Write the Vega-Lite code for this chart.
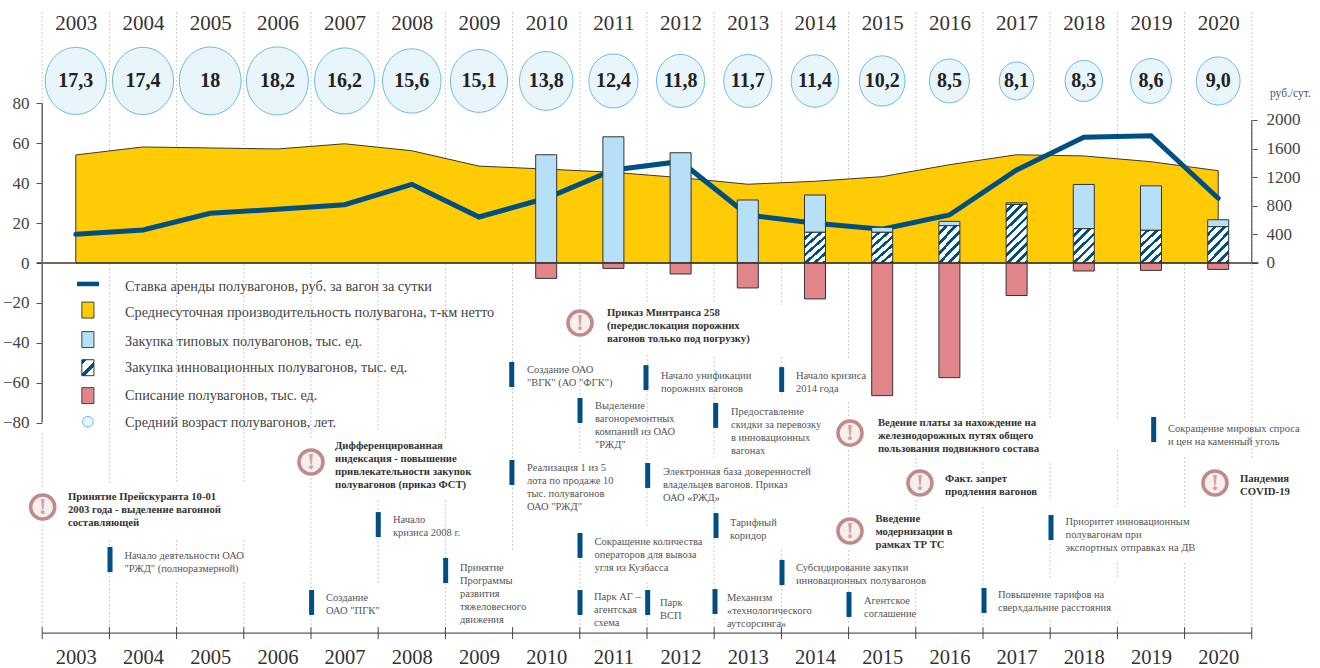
{"$schema":"https://vega.github.io/schema/vega-lite/v6.json","width":1320,"height":668,"autosize":"none","padding":0,"background":"white","config":{"view":{"stroke":null},"font":"Liberation Serif"},"datasets":{"grid":[{"year":2002.5,"y":125.9,"y2":-80.2},{"year":2002.5,"y":-85.3,"y2":-113.8},{"year":2002.5,"y":-131.4,"y2":-182.5},{"year":2003.5,"y":125.9,"y2":-84},{"year":2003.5,"y":-85.3,"y2":-110.3},{"year":2003.5,"y":-138.9,"y2":-142.4},{"year":2003.5,"y":-155,"y2":-182.5},{"year":2004.5,"y":125.9,"y2":-110.3},{"year":2004.5,"y":-138.9,"y2":-148.9},{"year":2004.5,"y":-160,"y2":-182.5},{"year":2005.5,"y":125.9,"y2":-110.3},{"year":2005.5,"y":-138.9,"y2":-148.9},{"year":2005.5,"y":-160,"y2":-182.5},{"year":2006.5,"y":125.9,"y2":-88.8},{"year":2006.5,"y":-107.8,"y2":-164},{"year":2006.5,"y":-176.5,"y2":-182.5},{"year":2007.5,"y":125.9,"y2":-84},{"year":2007.5,"y":-118.9,"y2":-125},{"year":2007.5,"y":-137.4,"y2":-160.5},{"year":2008.5,"y":125.9,"y2":-88.8},{"year":2008.5,"y":-118.9,"y2":-147.9},{"year":2008.5,"y":-160.5,"y2":-182.5},{"year":2009.5,"y":125.9,"y2":-144.9},{"year":2010.5,"y":125.9,"y2":-22.6},{"year":2010.5,"y":-41.1,"y2":-67.7},{"year":2010.5,"y":-80.2,"y2":-95.3},{"year":2010.5,"y":-147.9,"y2":-164},{"year":2010.5,"y":-176.5,"y2":-182.5},{"year":2011.5,"y":125.9,"y2":-20},{"year":2011.5,"y":-46,"y2":-51},{"year":2011.5,"y":-63.7,"y2":-100},{"year":2011.5,"y":-112.8,"y2":-132},{"year":2011.5,"y":-160,"y2":-164},{"year":2011.5,"y":-176.5,"y2":-182.5},{"year":2012.5,"y":125.9,"y2":-21},{"year":2012.5,"y":-47.1,"y2":-70.2},{"year":2012.5,"y":-82.7,"y2":-97.3},{"year":2012.5,"y":-120.4,"y2":-125.4},{"year":2012.5,"y":-137.9,"y2":-163},{"year":2012.5,"y":-176,"y2":-182.5},{"year":2013.5,"y":125.9,"y2":-21},{"year":2013.5,"y":-47.1,"y2":-52.2},{"year":2013.5,"y":-64.7,"y2":-67.2},{"year":2013.5,"y":-143.9,"y2":-148.9},{"year":2013.5,"y":-161.5,"y2":-182.5},{"year":2014.5,"y":125.9,"y2":-48.6},{"year":2014.5,"y":-69.7,"y2":-77.2},{"year":2014.5,"y":-93.8,"y2":-126.4},{"year":2014.5,"y":-143.9,"y2":-165},{"year":2014.5,"y":-177.5,"y2":-182.5},{"year":2015.5,"y":125.9,"y2":-77.2},{"year":2015.5,"y":-93.8,"y2":-102.3},{"year":2015.5,"y":-118.9,"y2":-125},{"year":2015.5,"y":-161.5,"y2":-182.5},{"year":2016.5,"y":125.9,"y2":-78.7},{"year":2016.5,"y":-100.3,"y2":-106.3},{"year":2016.5,"y":-122.4,"y2":-164},{"year":2016.5,"y":-176.5,"y2":-182.5},{"year":2017.5,"y":125.9,"y2":-78.7},{"year":2017.5,"y":-100.3,"y2":-118.9},{"year":2017.5,"y":-138.9,"y2":-159},{"year":2017.5,"y":-179,"y2":-182.5},{"year":2018.5,"y":125.9,"y2":-78.7},{"year":2018.5,"y":-93.8,"y2":-122.4},{"year":2018.5,"y":-150.4,"y2":-157.5},{"year":2018.5,"y":-180,"y2":-182.5},{"year":2019.5,"y":125.9,"y2":-78.7},{"year":2019.5,"y":-97.3,"y2":-122.4},{"year":2019.5,"y":-150.4,"y2":-182.5},{"year":2020.5,"y":125.9,"y2":-98.8},{"year":2020.5,"y":-116.4,"y2":-182.5}],"productivity":[{"year":2003,"y":54.2,"y2":0},{"year":2004,"y":58.2,"y2":0},{"year":2005,"y":57.7,"y2":0},{"year":2006,"y":57.2,"y2":0},{"year":2007,"y":59.8,"y2":0},{"year":2008,"y":56.3,"y2":0},{"year":2009,"y":48.6,"y2":0},{"year":2010,"y":47.1,"y2":0},{"year":2011,"y":45.5,"y2":0},{"year":2012,"y":42.8,"y2":0},{"year":2013,"y":39.5,"y2":0},{"year":2014,"y":41,"y2":0},{"year":2015,"y":43.3,"y2":0},{"year":2016,"y":49.3,"y2":0},{"year":2017,"y":54.3,"y2":0},{"year":2018,"y":53.7,"y2":0},{"year":2019,"y":50.8,"y2":0},{"year":2020,"y":46.3,"y2":0}],"rent":[{"year":2003,"y":401},{"year":2004,"y":461},{"year":2005,"y":695},{"year":2006,"y":751},{"year":2007,"y":815},{"year":2008,"y":1100},{"year":2009,"y":643},{"year":2010,"y":905},{"year":2011,"y":1301},{"year":2012,"y":1420},{"year":2013,"y":671},{"year":2014,"y":555},{"year":2015,"y":471},{"year":2016,"y":671},{"year":2017,"y":1301},{"year":2018,"y":1758},{"year":2019,"y":1780},{"year":2020,"y":905}],"typical":[{"year":2010,"y":54.3,"y2":0},{"year":2011,"y":63.3,"y2":0},{"year":2012,"y":55.3,"y2":0},{"year":2013,"y":31.6,"y2":0},{"year":2014,"y":34.1,"y2":15.4},{"year":2015,"y":17.9,"y2":15.4},{"year":2016,"y":20.9,"y2":18.7},{"year":2017,"y":30.2,"y2":29.4},{"year":2018,"y":39.4,"y2":17.2},{"year":2019,"y":38.7,"y2":16.4},{"year":2020,"y":21.7,"y2":18.2}],"innovative":[{"year":2014,"y":15.4,"y2":0},{"year":2015,"y":15.4,"y2":0},{"year":2016,"y":18.7,"y2":0},{"year":2018,"y":17.2,"y2":0},{"year":2019,"y":16.4,"y2":0},{"year":2020,"y":18.2,"y2":0}],"innovative2017":[{"year":2017,"y":29.4,"y2":0}],"writeoff":[{"year":2010,"y":-7.7,"y2":0},{"year":2011,"y":-2.7,"y2":0},{"year":2012,"y":-5.5,"y2":0},{"year":2013,"y":-12.5,"y2":0},{"year":2014,"y":-18,"y2":0},{"year":2015,"y":-66.5,"y2":0},{"year":2016,"y":-57.5,"y2":0},{"year":2017,"y":-16.3,"y2":0},{"year":2018,"y":-4,"y2":0},{"year":2019,"y":-3.7,"y2":0},{"year":2020,"y":-3.2,"y2":0}],"age":[{"year":2003,"y":91.3,"age":17.3,"label":"17,3"},{"year":2004,"y":91.3,"age":17.4,"label":"17,4"},{"year":2005,"y":91.3,"age":18,"label":"18"},{"year":2006,"y":91.3,"age":18.2,"label":"18,2"},{"year":2007,"y":91.3,"age":16.2,"label":"16,2"},{"year":2008,"y":91.3,"age":15.6,"label":"15,6"},{"year":2009,"y":91.3,"age":15.1,"label":"15,1"},{"year":2010,"y":91.3,"age":13.8,"label":"13,8"},{"year":2011,"y":91.3,"age":12.4,"label":"12,4"},{"year":2012,"y":91.3,"age":11.8,"label":"11,8"},{"year":2013,"y":91.3,"age":11.7,"label":"11,7"},{"year":2014,"y":91.3,"age":11.4,"label":"11,4"},{"year":2015,"y":91.3,"age":10.2,"label":"10,2"},{"year":2016,"y":91.3,"age":8.5,"label":"8,5"},{"year":2017,"y":91.3,"age":8.1,"label":"8,1"},{"year":2018,"y":91.3,"age":8.3,"label":"8,3"},{"year":2019,"y":91.3,"age":8.6,"label":"8,6"},{"year":2020,"y":91.3,"age":9.0,"label":"9,0"}],"ticks":[{"year":2002.5,"y":-182.6,"y2":-188.6},{"year":2003.5,"y":-182.6,"y2":-188.6},{"year":2004.5,"y":-182.6,"y2":-188.6},{"year":2005.5,"y":-182.6,"y2":-188.6},{"year":2006.5,"y":-182.6,"y2":-188.6},{"year":2007.5,"y":-182.6,"y2":-188.6},{"year":2008.5,"y":-182.6,"y2":-188.6},{"year":2009.5,"y":-182.6,"y2":-188.6},{"year":2010.5,"y":-182.6,"y2":-188.6},{"year":2011.5,"y":-182.6,"y2":-188.6},{"year":2012.5,"y":-182.6,"y2":-188.6},{"year":2013.5,"y":-182.6,"y2":-188.6},{"year":2014.5,"y":-182.6,"y2":-188.6},{"year":2015.5,"y":-182.6,"y2":-188.6},{"year":2016.5,"y":-182.6,"y2":-188.6},{"year":2017.5,"y":-182.6,"y2":-188.6},{"year":2018.5,"y":-182.6,"y2":-188.6},{"year":2019.5,"y":-182.6,"y2":-188.6},{"year":2020.5,"y":-182.6,"y2":-188.6}],"bars":[{"year":2003.509,"y":-142.4,"y2":-155},{"year":2006.509,"y":-164,"y2":-176.5},{"year":2007.501,"y":-124.9,"y2":-137.4},{"year":2008.504,"y":-147.9,"y2":-160.5},{"year":2009.487,"y":-49.6,"y2":-62.2},{"year":2009.49,"y":-98.8,"y2":-111.3},{"year":2010.503,"y":-67.7,"y2":-80.2},{"year":2010.503,"y":-135.4,"y2":-147.9},{"year":2010.503,"y":-164,"y2":-176.5},{"year":2011.485,"y":-51.2,"y2":-63.7},{"year":2011.51,"y":-100.3,"y2":-112.8},{"year":2011.51,"y":-164,"y2":-176.5},{"year":2012.522,"y":-70.2,"y2":-82.7},{"year":2012.527,"y":-125.4,"y2":-137.9},{"year":2012.512,"y":-163.5,"y2":-176},{"year":2013.504,"y":-52.2,"y2":-64.7},{"year":2013.509,"y":-148.9,"y2":-161.5},{"year":2014.506,"y":-165,"y2":-177.5},{"year":2016.515,"y":-163,"y2":-175.5},{"year":2017.512,"y":-126.4,"y2":-138.9},{"year":2019.04,"y":-77.2,"y2":-89.8}],"icons":[{"year":2002.507,"y":-122.4},{"year":2006.5,"y":-99.8},{"year":2010.503,"y":-30.1},{"year":2014.521,"y":-85.3},{"year":2014.521,"y":-134.4},{"year":2015.562,"y":-110.3},{"year":2019.952,"y":-110.3}],"notes":[{"year":2003.725,"y":-144.4,"text":"Начало деятельности ОАО\n\"РЖД\" (полноразмерной)"},{"year":2006.723,"y":-165.5,"text":"Создание\nОАО \"ПГК\""},{"year":2007.72,"y":-126.4,"text":"Начало\nкризиса 2008 г."},{"year":2008.717,"y":-150.5,"text":"Принятие\nПрограммы\nразвития\nтяжеловесного\nдвижения"},{"year":2009.714,"y":-51.2,"text":"Создание ОАО\n\"ВГК\" (АО \"ФГК\")"},{"year":2010.726,"y":-69.2,"text":"Выделение\nвагоноремонтных\nкомпаний из ОАО\n\"РЖД\""},{"year":2009.714,"y":-100.3,"text":"Реализация 1 из 5\nлота по продаже  10\nтыс. полувагонов\nОАО \"РЖД\""},{"year":2010.719,"y":-137.4,"text":"Сокращение количества\nоператоров для вывоза\nугля из Кузбасса"},{"year":2010.711,"y":-165,"text":"Парк АГ –\nагентская\nсхема"},{"year":2011.693,"y":-168,"text":"Парк\nВСП"},{"year":2011.708,"y":-54.2,"text":"Начало унификации\nпорожних вагонов"},{"year":2011.738,"y":-102.3,"text":"Электронная база доверенностей\nвладельцев вагонов. Приказ\nОАО «РЖД»"},{"year":2012.75,"y":-72.2,"text":"Предоставление\nскидки за перевозку\nв инновационных\nвагонах"},{"year":2012.735,"y":-127.9,"text":"Тарифный\nкоридор"},{"year":2012.69,"y":-165.5,"text":"Механизм\n«технологического\nаутсорсинга»"},{"year":2013.717,"y":-54.2,"text":"Начало кризиса\n2014 года"},{"year":2013.717,"y":-150.5,"text":"Субсидирование закупки\nинновационных полувагонов"},{"year":2014.729,"y":-167,"text":"Агентское\nсоглашение"},{"year":2016.723,"y":-164,"text":"Повышение тарифов на\nсверхдальние расстояния"},{"year":2017.728,"y":-127.4,"text":"Приоритет инновационным\nполувагонам при\nэкспортных отправках на ДВ"},{"year":2019.253,"y":-80.7,"text":"Сокращение мировых спроса\nи цен на каменный уголь"}],"boldNotes":[{"year":2002.884,"y":-114.8,"text":"Принятие Прейскуранта 10-01\n2003 года - выделение вагонной\nсоставляющей"},{"year":2006.857,"y":-89.3,"text":"Дифференцированная\nиндексация - повышение\nпривлекательности закупок\nполувагонов (приказ ФСТ)"},{"year":2010.905,"y":-22.8,"text":"Приказ Минтранса 258\n(передислокация порожних\nвагонов только под погрузку)"},{"year":2014.937,"y":-77.7,"text":"Ведение платы за нахождение на\nжелезнодорожных путях общего\nпользования подвижного состава"},{"year":2015.935,"y":-105.8,"text":"Факт. запрет\nпродления вагонов"},{"year":2014.9,"y":-125.9,"text":"Введение\nмодернизации в\nрамках ТР ТС"},{"year":2020.324,"y":-105.8,"text":"Пандемия\nCOVID-19"}],"legend":[{"year":2003.732,"y":-12,"text":"Ставка аренды полувагонов,  руб. за вагон за сутки"},{"year":2003.732,"y":-25.1,"text":"Среднесуточная производительность полувагона, т-км нетто"},{"year":2003.732,"y":-39.6,"text":"Закупка типовых полувагонов, тыс. ед."},{"year":2003.732,"y":-52.7,"text":"Закупка инновационных полувагонов, тыс. ед."},{"year":2003.732,"y":-66.7,"text":"Списание полувагонов, тыс. ед."},{"year":2003.732,"y":-80.2,"text":"Средний возраст полувагонов, лет."}]},"layer":[{"data":{"name":"grid"},"mark":{"type":"rule","stroke":"#cccccc","strokeWidth":1,"strokeDash":[2,2]},"encoding":{"x":{"field":"year","type":"quantitative","scale":{"domain":[2001.872,2021.515],"nice":false,"zero":false,"padding":0},"axis":{"orient":"top","offset":-33,"values":[2003,2004,2005,2006,2007,2008,2009,2010,2011,2012,2013,2014,2015,2016,2017,2018,2019,2020],"format":"d","title":null,"domain":false,"ticks":false,"grid":false,"labelPadding":0,"labelFontSize":21,"labelColor":"#333333","labelFont":"Liberation Serif","labelOverlap":false,"labelFlush":false}},"y":{"field":"y","type":"quantitative","scale":{"domain":[-203.1,131.9],"nice":false,"zero":false},"axis":{"orient":"left","offset":-42,"values":[-80,-60,-40,-20,0,20,40,60,80],"title":null,"domain":false,"grid":false,"tickSize":6,"tickColor":"#555555","labelPadding":7,"labelFontSize":17,"labelColor":"#444444","labelFont":"Liberation Serif"}},"y2":{"field":"y2"}}},{"data":{"name":"productivity"},"mark":{"type":"area","fill":"#fecb05","stroke":"#3a3a2a","strokeWidth":1},"encoding":{"y2":{"field":"y2"}}},{"data":{"name":"rent"},"mark":{"type":"line","stroke":"#004f82","strokeWidth":5,"strokeCap":"round"},"encoding":{"y":{"field":"y","type":"quantitative","scale":{"domain":[-5664,3678],"nice":false,"zero":false},"axis":{"orient":"right","offset":-68,"values":[0,400,800,1200,1600,2000],"format":"d","title":null,"domain":false,"grid":false,"tickSize":5,"tickColor":"#555555","labelPadding":9,"labelFontSize":17,"labelColor":"#444444","labelFont":"Liberation Serif"}}}},{"data":{"name":"typical"},"mark":{"type":"bar","size":21,"fill":"#b6e0f7","stroke":"#333333","strokeWidth":1},"encoding":{"y2":{"field":"y2"}}},{"data":{"name":"innovative"},"mark":{"type":"bar","size":21,"stroke":"#333333","strokeWidth":1,"fill":{"gradient":"linear","x1":0,"y1":0,"x2":0.706,"y2":1.176,"stops":[{"offset":0,"color":"#ffffff"},{"offset":0.1,"color":"#ffffff"},{"offset":0.1,"color":"#004f82"},{"offset":0.1667,"color":"#004f82"},{"offset":0.1667,"color":"#ffffff"},{"offset":0.2667,"color":"#ffffff"},{"offset":0.2667,"color":"#004f82"},{"offset":0.3333,"color":"#004f82"},{"offset":0.3333,"color":"#ffffff"},{"offset":0.4333,"color":"#ffffff"},{"offset":0.4333,"color":"#004f82"},{"offset":0.5,"color":"#004f82"},{"offset":0.5,"color":"#ffffff"},{"offset":0.6,"color":"#ffffff"},{"offset":0.6,"color":"#004f82"},{"offset":0.6667,"color":"#004f82"},{"offset":0.6667,"color":"#ffffff"},{"offset":0.7667,"color":"#ffffff"},{"offset":0.7667,"color":"#004f82"},{"offset":0.8333,"color":"#004f82"},{"offset":0.8333,"color":"#ffffff"},{"offset":0.9333,"color":"#ffffff"},{"offset":0.9333,"color":"#004f82"},{"offset":1,"color":"#004f82"}]}},"encoding":{"y2":{"field":"y2"}}},{"data":{"name":"innovative2017"},"mark":{"type":"bar","size":21,"stroke":"#333333","strokeWidth":1,"fill":{"gradient":"linear","x1":0,"y1":0,"x2":0.428,"y2":1.203,"stops":[{"offset":0,"color":"#ffffff"},{"offset":0.0667,"color":"#ffffff"},{"offset":0.0667,"color":"#004f82"},{"offset":0.1111,"color":"#004f82"},{"offset":0.1111,"color":"#ffffff"},{"offset":0.1778,"color":"#ffffff"},{"offset":0.1778,"color":"#004f82"},{"offset":0.2222,"color":"#004f82"},{"offset":0.2222,"color":"#ffffff"},{"offset":0.2889,"color":"#ffffff"},{"offset":0.2889,"color":"#004f82"},{"offset":0.3333,"color":"#004f82"},{"offset":0.3333,"color":"#ffffff"},{"offset":0.4,"color":"#ffffff"},{"offset":0.4,"color":"#004f82"},{"offset":0.4444,"color":"#004f82"},{"offset":0.4444,"color":"#ffffff"},{"offset":0.5111,"color":"#ffffff"},{"offset":0.5111,"color":"#004f82"},{"offset":0.5556,"color":"#004f82"},{"offset":0.5556,"color":"#ffffff"},{"offset":0.6222,"color":"#ffffff"},{"offset":0.6222,"color":"#004f82"},{"offset":0.6667,"color":"#004f82"},{"offset":0.6667,"color":"#ffffff"},{"offset":0.7333,"color":"#ffffff"},{"offset":0.7333,"color":"#004f82"},{"offset":0.7778,"color":"#004f82"},{"offset":0.7778,"color":"#ffffff"},{"offset":0.8444,"color":"#ffffff"},{"offset":0.8444,"color":"#004f82"},{"offset":0.8889,"color":"#004f82"},{"offset":0.8889,"color":"#ffffff"},{"offset":0.9556,"color":"#ffffff"},{"offset":0.9556,"color":"#004f82"},{"offset":1,"color":"#004f82"}]}},"encoding":{"y2":{"field":"y2"}}},{"data":{"name":"writeoff"},"mark":{"type":"bar","size":21,"fill":"#e2858b","stroke":"#333333","strokeWidth":1},"encoding":{"y2":{"field":"y2"}}},{"data":{"values":[{"year":2002.42,"year2":2020.6,"y":0}]},"mark":{"type":"rule","stroke":"#3a3a2a","strokeWidth":1.5},"encoding":{"x":{"field":"year","type":"quantitative","scale":{"domain":[2001.872,2021.515],"nice":false,"zero":false,"padding":0},"axis":{"orient":"bottom","offset":-5,"values":[2003,2004,2005,2006,2007,2008,2009,2010,2011,2012,2013,2014,2015,2016,2017,2018,2019,2020],"format":"d","title":null,"domain":false,"ticks":false,"grid":false,"labelPadding":0,"labelBaseline":"alphabetic","labelFontSize":20.5,"labelColor":"#333333","labelFont":"Liberation Serif","labelOverlap":false,"labelFlush":false}},"x2":{"field":"year2"}}},{"data":{"values":[{"year":2002.5,"y":80,"y2":-80}]},"mark":{"type":"rule","stroke":"#666666","strokeWidth":1.5},"encoding":{"y2":{"field":"y2"}}},{"data":{"values":[{"year":2020.5,"y":2000,"y2":0}]},"mark":{"type":"rule","stroke":"#555555","strokeWidth":1.2},"encoding":{"y":{"field":"y","type":"quantitative","scale":{"domain":[-5664,3678],"nice":false,"zero":false},"axis":null},"y2":{"field":"y2"}}},{"data":{"values":[{"year":2002.5,"year2":2020.5,"y":-185.6}]},"mark":{"type":"rule","stroke":"#333333","strokeWidth":1},"encoding":{"x2":{"field":"year2"}}},{"data":{"name":"ticks"},"mark":{"type":"rule","stroke":"#444444","strokeWidth":1},"encoding":{"y2":{"field":"y2"}}},{"data":{"name":"age"},"mark":{"type":"point","shape":"M -0.91,0 A 0.91,1 0 1 1 0.91,0 A 0.91,1 0 1 1 -0.91,0 Z","filled":true,"fill":"#e8f5fb","fillOpacity":1,"stroke":"#6cb9e5","strokeWidth":1,"strokeOpacity":1},"encoding":{"size":{"field":"age","type":"quantitative","scale":{"domain":[8.1,8.5,9,12.4,16.2,18.2],"range":[1444,1936,2304,2916,4356,4624],"zero":false},"legend":null}}},{"data":{"name":"age"},"mark":{"type":"text","font":"Liberation Serif","fontWeight":"bold","fontSize":20,"fill":"#222222","baseline":"middle"},"encoding":{"text":{"field":"label"}}},{"data":{"values":[{"year":2003.018,"year2":2003.345,"y":-10.5}]},"mark":{"type":"rule","stroke":"#004f82","strokeWidth":4.5},"encoding":{"x2":{"field":"year2"}}},{"data":{"values":[{"year":2003.09,"year2":2003.27,"y":-19.6,"y2":-27.6}]},"mark":{"type":"rect","fill":"#fecb05","stroke":"#444444","strokeWidth":1},"encoding":{"x2":{"field":"year2"},"y2":{"field":"y2"}}},{"data":{"values":[{"year":2003.09,"year2":2003.27,"y":-34.4,"y2":-42.4}]},"mark":{"type":"rect","fill":"#b6e0f7","stroke":"#444444","strokeWidth":1},"encoding":{"x2":{"field":"year2"},"y2":{"field":"y2"}}},{"data":{"values":[{"year":2003.09,"year2":2003.27,"y":-48.5,"y2":-56.5}]},"mark":{"type":"rect","stroke":"#333333","strokeWidth":1,"fill":{"gradient":"linear","x1":0,"y1":0,"x2":0.865,"y2":1.107,"stops":[{"offset":0,"color":"#004f82"},{"offset":0.18,"color":"#004f82"},{"offset":0.18,"color":"#ffffff"},{"offset":0.5,"color":"#ffffff"},{"offset":0.5,"color":"#004f82"},{"offset":0.68,"color":"#004f82"},{"offset":0.68,"color":"#ffffff"},{"offset":1,"color":"#ffffff"}]}},"encoding":{"x2":{"field":"year2"},"y2":{"field":"y2"}}},{"data":{"values":[{"year":2003.09,"year2":2003.27,"y":-62.5,"y2":-70.5}]},"mark":{"type":"rect","fill":"#e2858b","stroke":"#444444","strokeWidth":1},"encoding":{"x2":{"field":"year2"},"y2":{"field":"y2"}}},{"data":{"values":[{"year":2003.18,"y":-79.6}]},"mark":{"type":"point","shape":"circle","filled":true,"fill":"#e8f5fb","fillOpacity":1,"stroke":"#6cb9e5","strokeWidth":1,"strokeOpacity":1,"size":113}},{"data":{"name":"legend"},"mark":{"type":"text","font":"Liberation Serif","fontSize":14.3,"fill":"#444444","align":"left","baseline":"middle"},"encoding":{"text":{"field":"text"}}},{"data":{"name":"bars"},"mark":{"type":"rule","stroke":"#004f82","strokeWidth":5},"encoding":{"y2":{"field":"y2"}}},{"data":{"name":"icons"},"mark":{"type":"point","shape":"circle","filled":true,"fill":"#f7eeee","fillOpacity":1,"stroke":"#c08a88","strokeWidth":3.5,"strokeOpacity":1,"size":580}},{"data":{"name":"icons"},"mark":{"type":"text","text":"!","font":"Liberation Serif","fontWeight":"bold","fontSize":24,"fill":"#d3a3a3","baseline":"middle"}},{"data":{"name":"notes"},"mark":{"type":"text","font":"Liberation Serif","fontSize":10.5,"lineHeight":13,"lineBreak":"\n","fill":"#555555","align":"left","baseline":"top"},"encoding":{"text":{"field":"text"}}},{"data":{"name":"boldNotes"},"mark":{"type":"text","font":"Liberation Serif","fontWeight":"bold","fontSize":10.7,"lineHeight":13,"lineBreak":"\n","fill":"#333333","align":"left","baseline":"top"},"encoding":{"text":{"field":"text"}}},{"data":{"values":[{"year":2020.77,"y":85,"text":"руб./сут."}]},"mark":{"type":"text","font":"Liberation Serif","fontSize":11.5,"fill":"#555555","align":"left","baseline":"middle"},"encoding":{"text":{"field":"text"}}}],"encoding":{"x":{"field":"year","type":"quantitative","scale":{"domain":[2001.872,2021.515],"nice":false,"zero":false,"padding":0},"axis":null},"y":{"field":"y","type":"quantitative","scale":{"domain":[-203.1,131.9],"nice":false,"zero":false},"axis":null}},"resolve":{"scale":{"y":"independent"},"axis":{"x":"independent"}}}
